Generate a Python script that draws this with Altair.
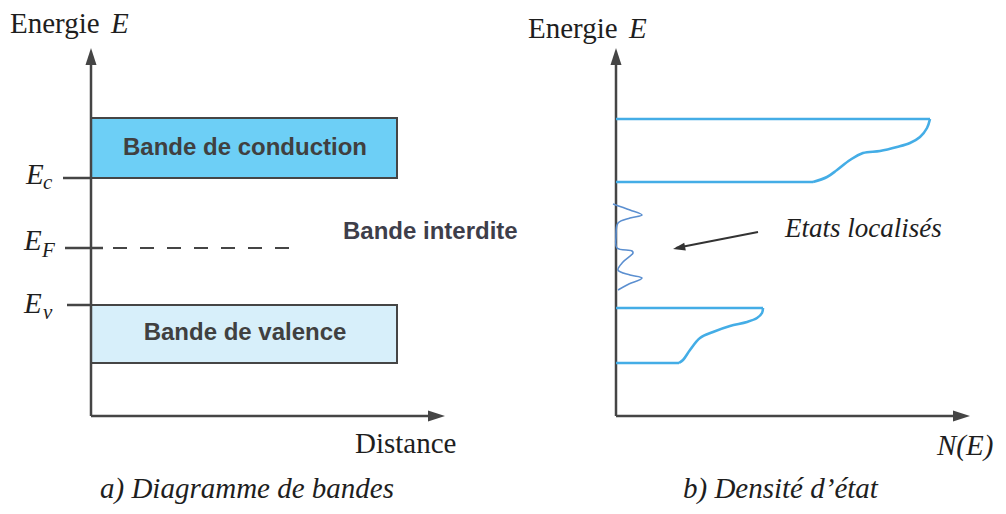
import altair as alt
import pandas as pd

# ---------------- data (diagram units: distance / energy above the axis origin) ----------------
RIGHT = 525            # horizontal offset of panel b)
axis_E_len = 368
axis_x_len = 354

level_sub = ["c", "F", "v"]
level_energy = [238, 168, 111]
band_length = 306
ef_length = 201

band_labels = ["Bande de conduction", "Bande de valence"]
band_lo = [238, 53]
band_hi = [298, 111]
band_fill = ["#6dcff6", "#d7effa"]

# density of states, conduction band: flat top, curved edge, flat bottom
cb_top, cb_bottom = 297, 234
cb_n = [314, 311, 304, 294, 281, 264, 247, 234, 221, 211, 197]
cb_e = [297, 288, 279, 273, 269, 265, 263, 256, 246, 239, 234]
# density of states, valence band
vb_top, vb_bottom = 108, 53
vb_n = [147, 146, 141, 131, 114, 97, 84, 74, 67, 63]
vb_e = [108, 103, 98, 94, 90, 84, 78, 66, 56, 53]
# localized states in the gap
loc_n = [-3, 14, 26, 14, 2, 0, 1, 16, 17, 7, 2, 14, 26, 11, 2]
loc_e = [212, 206, 201, 198, 193, 179, 168, 165, 163, 154, 146, 141, 138, 131, 126]

# ---------------- scales ----------------
xs = alt.Scale(domain=[-83, 907], nice=False, zero=False)
ys = alt.Scale(domain=[-90, 408], nice=False, zero=False)
X = lambda f: alt.X(f, scale=xs, axis=None)
Y = lambda f: alt.Y(f, scale=ys, axis=None)

AX = "#454545"
DOS = "#44ade6"

# band rectangles
bands = pd.DataFrame({"x": [0, 0], "x2": [band_length] * 2, "y": band_lo, "y2": band_hi,
                      "fill": band_fill, "label": band_labels})
rects = alt.Chart(bands).mark_rect(stroke=AX, strokeWidth=2).encode(
    x=X("x:Q"), x2="x2:Q", y=Y("y:Q"), y2="y2:Q", fill=alt.Fill("fill:N", scale=None))

# axis lines and level ticks
seg = pd.DataFrame({
    "x":  [0, 0, RIGHT, RIGHT, -28, -24, -26],
    "x2": [0, axis_x_len - 8, RIGHT, RIGHT + axis_x_len - 8, 0, 0, 12],
    "y":  [0, 0, 0, 0, level_energy[0], level_energy[2], level_energy[1]],
    "y2": [axis_E_len - 8, 0, axis_E_len - 8, 0, level_energy[0], level_energy[2], level_energy[1]],
})
rules = alt.Chart(seg).mark_rule(color=AX, strokeWidth=2.5).encode(
    x=X("x:Q"), x2="x2:Q", y=Y("y:Q"), y2="y2:Q")

dash = pd.DataFrame({"x": [22], "x2": [ef_length], "y": [level_energy[1]], "y2": [level_energy[1]]})
dashed = alt.Chart(dash).mark_rule(color=AX, strokeWidth=2.2, strokeDash=[14, 13]).encode(
    x=X("x:Q"), x2="x2:Q", y=Y("y:Q"), y2="y2:Q")

ARROW = "M0,0L0.65,2L-0.65,2Z"
heads = pd.DataFrame({"x": [0, axis_x_len, RIGHT, RIGHT + axis_x_len],
                      "y": [axis_E_len, 0, axis_E_len, 0],
                      "a": [0, 90, 0, 90]})
arrowheads = alt.Chart(heads).mark_point(shape=ARROW, filled=True, size=289, color=AX, opacity=1).encode(
    x=X("x:Q"), y=Y("y:Q"), angle=alt.Angle("a:Q", scale=None))

# density of states: straight parts
dos_flat = pd.DataFrame({
    "x": [RIGHT, RIGHT, RIGHT, RIGHT],
    "x2": [RIGHT + cb_n[0], RIGHT + cb_n[-1], RIGHT + vb_n[0], RIGHT + vb_n[-1]],
    "y": [cb_top, cb_bottom, vb_top, vb_bottom],
    "y2": [cb_top, cb_bottom, vb_top, vb_bottom],
})
dos_rules = alt.Chart(dos_flat).mark_rule(color=DOS, strokeWidth=2.6).encode(
    x=X("x:Q"), x2="x2:Q", y=Y("y:Q"), y2="y2:Q")

# density of states: curved band edges
dos = pd.DataFrame({
    "x": [RIGHT + v for v in cb_n] + [RIGHT + v for v in vb_n],
    "y": cb_e + vb_e,
    "band": ["c"] * len(cb_n) + ["v"] * len(vb_n),
    "o": list(range(len(cb_n))) + list(range(len(vb_n))),
})
dos_lines = alt.Chart(dos).mark_line(color=DOS, strokeWidth=2.6, interpolate="catmull-rom").encode(
    x=X("x:Q"), y=Y("y:Q"), detail="band:N", order="o:Q")

loc = pd.DataFrame({"x": [RIGHT + v for v in loc_n], "y": loc_e, "o": list(range(len(loc_n)))})
loc_line = alt.Chart(loc).mark_line(color="#5b8fd0", strokeWidth=1.6, interpolate="catmull-rom").encode(
    x=X("x:Q"), y=Y("y:Q"), order="o:Q")

# pointer arrow to localized states
ptr = pd.DataFrame({"x": [RIGHT + 142], "x2": [RIGHT + 60], "y": [184], "y2": [168]})
ptr_line = alt.Chart(ptr).mark_rule(color="#333333", strokeWidth=2).encode(
    x=X("x:Q"), x2="x2:Q", y=Y("y:Q"), y2="y2:Q")
ptr_head = alt.Chart(pd.DataFrame({"x": [RIGHT + 57], "y": [167], "a": [258.7]})).mark_point(
    shape=ARROW, filled=True, size=150, color="#333333", opacity=1).encode(
    x=X("x:Q"), y=Y("y:Q"), angle=alt.Angle("a:Q", scale=None))

# ---------------- texts ----------------
SERIF = "Liberation Serif"
SANS = "Liberation Sans"
TXT = "#1e1e1e"

upright = pd.DataFrame({
    "x": [-81, 437, 264],
    "y": [383, 378, -37],
    "t": ["Energie", "Energie", "Distance"],
})
t_up = alt.Chart(upright).mark_text(font=SERIF, fontSize=29, align="left", baseline="alphabetic",
                                    color=TXT).encode(x=X("x:Q"), y=Y("y:Q"), text="t:N")

italic = pd.DataFrame({
    "x": [20, 538, 846, 9, 592, 694, -65, -67, -67],
    "y": [383, 378, -39, -82, -82, 179, 232, 166, 103],
    "t": ["E", "E", "N(E)", "a) Diagramme de bandes", "b) Densité d\u2019état", "Etats localisés",
          "E", "E", "E"],
    "s": [29, 29, 29, 29, 29, 27, 29, 29, 29],
})
t_it = alt.Chart(italic).mark_text(font=SERIF, fontStyle="italic", align="left", baseline="alphabetic",
                                   color=TXT).encode(
    x=X("x:Q"), y=Y("y:Q"), text="t:N", size=alt.Size("s:Q", scale=None))

subs = pd.DataFrame({"x": [-48, -49, -48], "y": [227, 159, 97], "t": level_sub})
t_sub = alt.Chart(subs).mark_text(font=SERIF, fontStyle="italic", fontSize=21, align="left",
                                  baseline="alphabetic", color=TXT).encode(
    x=X("x:Q"), y=Y("y:Q"), text="t:N")

sans = pd.DataFrame({
    "x": [154, 154],
    "y": [261, 76],
    "t": band_labels,
})
t_sans = alt.Chart(sans).mark_text(font=SANS, fontSize=24, fontWeight="bold", align="center",
                                   baseline="alphabetic", color="#404040").encode(
    x=X("x:Q"), y=Y("y:Q"), text="t:N")

gap = pd.DataFrame({"x": [252], "y": [177], "t": ["Bande interdite"]})
t_gap = alt.Chart(gap).mark_text(font=SANS, fontSize=24, fontWeight="bold", align="left",
                                 baseline="alphabetic", color="#3e3e4a").encode(
    x=X("x:Q"), y=Y("y:Q"), text="t:N")

chart = alt.layer(
    rects, rules, dashed, arrowheads, dos_rules, dos_lines, loc_line, ptr_line, ptr_head,
    t_up, t_it, t_sub, t_sans, t_gap,
).properties(
    width=990, height=498, padding=0, autosize=alt.AutoSizeParams(type="none"),
    background="white",
).configure_view(stroke=None)

chart.save("out.html", embed_options={"renderer": "svg", "actions": False})
